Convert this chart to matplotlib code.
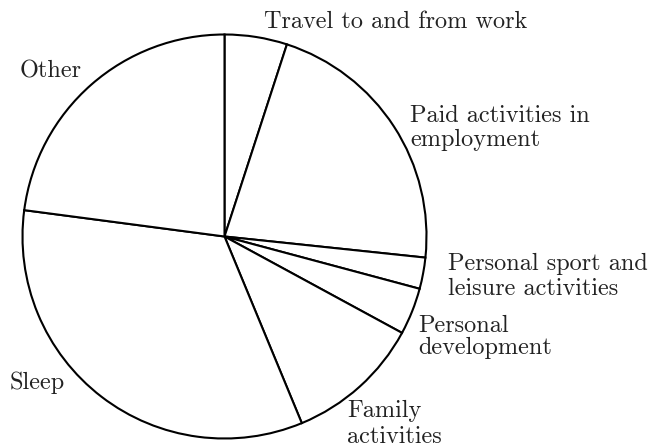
import matplotlib
matplotlib.use('Agg')
import matplotlib.pyplot as plt

# hours per day (clockwise from 12 o'clock)
activities = ['Travel to and from work', 'Paid activities in employment',
              'Personal sport and leisure activities', 'Personal development',
              'Family activities', 'Sleep', 'Other']
hours = [1.2, 5.2, 0.6, 0.9, 2.6, 8.0, 5.5]

# label lines as they are broken in the picture
label_lines = [
    ['Travel to and from work'],
    ['Paid activities in', 'employment'],
    ['Personal sport and', 'leisure activities'],
    ['Personal', 'development'],
    ['Family', 'activities'],
    ['Sleep'],
    ['Other'],
]

plt.rcParams['font.family'] = ['cmr10', 'DejaVu Serif']

W, H = 653, 448
fig = plt.figure(figsize=(W / 100, H / 100), dpi=100)
cx, cy, r = 224.5, 236.5, 202
ax = fig.add_axes([(cx - r) / W, (H - cy - r) / H, 2 * r / W, 2 * r / H])

wedges, _ = ax.pie(hours, startangle=90, counterclock=False, radius=1,
                   wedgeprops={'facecolor': 'white', 'edgecolor': 'black', 'linewidth': 1.5})
for w in wedges:
    w.set_clip_on(False)
ax.set_xlim(-1, 1)
ax.set_ylim(-1, 1)
ax.axis('off')

# pixel anchors (left edge, baseline of first line, line step) for each label
anchors = [
    (264, 28, 25),
    (410, 122, 24),
    (448, 270, 25),
    (418, 332, 22),
    (347, 417, 26),
    (10, 389, 25),
    (20, 78, 25),
]
for lines, (x, y, step) in zip(label_lines, anchors):
    for i, line in enumerate(lines):
        fig.text(x / W, 1 - (y + i * step) / H, line, fontsize=17.5,
                 ha='left', va='baseline', color='#222222')

fig.savefig('out.png', dpi=100)
